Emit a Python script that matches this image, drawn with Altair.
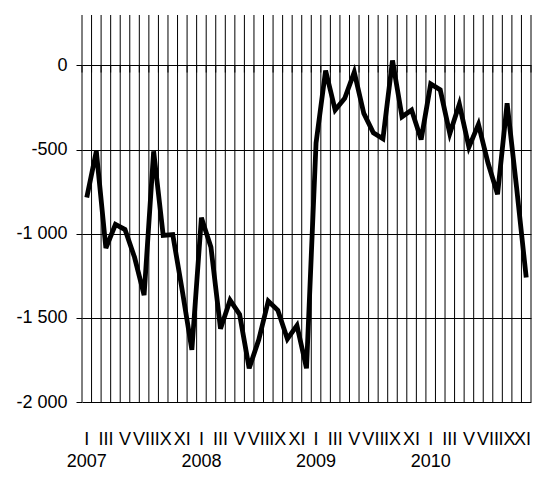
import altair as alt
import pandas as pd

# Monthly values, Jan 2007 .. Nov 2010
values = [
    -785, -510, -1085, -945, -975, -1140, -1365, -510, -1010, -1005, -1340, -1690,
    -905, -1080, -1565, -1395, -1480, -1800, -1630, -1400, -1455, -1625, -1545, -1800,
    -460, -30, -265, -195, -40, -285, -400, -435, 30, -305, -265, -440,
    -110, -145, -405, -230, -485, -350, -580, -765, -225, -730, -1260,
]
years = ["2007", "2008", "2009", "2010"]
month_names = ["I", "II", "III", "IV", "V", "VI", "VII", "VIII", "IX", "X", "XI", "XII"]
shown_months = ["I", "III", "V", "VII", "IX", "XI"]
y_ticks = [0, -500, -1000, -1500, -2000]

n = len(values)
FONT = "Liberation Sans, Arial"
W, H = 449, 387

df = pd.DataFrame({"x": [i + 0.5 for i in range(n)], "v": values})
bounds = pd.DataFrame({"b": list(range(n + 1))})
lab = pd.DataFrame(
    [
        {"x": i + 0.5, "edge": i + 1, "t": month_names[i % 12], "last": i == n - 1}
        for i in range(n)
        if month_names[i % 12] in shown_months
    ]
)
yr = pd.DataFrame({"x": [12 * k + 0.5 for k in range(len(years))], "t": years})

xs = alt.Scale(domain=[0, n], nice=False, zero=False)
ys = alt.Scale(domain=[-2000, 300], nice=False, zero=False)

grid_v = alt.Chart(bounds).mark_rule(color="black", strokeWidth=1).encode(
    x=alt.X("b:Q", scale=xs, axis=None),
    y=alt.value(0),
    y2=alt.value(H),
)

ticks0 = alt.Chart(bounds).mark_rule(color="black", strokeWidth=1).encode(
    x=alt.X("b:Q", scale=xs, axis=None),
    y=alt.datum(0),
    y2=alt.datum(-42),
)

line = alt.Chart(df).mark_line(color="black", strokeWidth=4.8, strokeJoin="miter").encode(
    x=alt.X("x:Q", scale=xs, axis=None),
    y=alt.Y(
        "v:Q",
        scale=ys,
        axis=alt.Axis(
            values=y_ticks,
            grid=True,
            gridColor="black",
            gridWidth=1,
            gridOpacity=1,
            tickColor="black",
            tickSize=6,
            domain=False,
            labelFont=FONT,
            labelFontSize=18,
            labelColor="black",
            labelPadding=9,
            labelExpr="(datum.value < 0 ? '-' : '') + replace(format(abs(datum.value), ','), ',', ' ')",
            title=None,
        ),
    ),
)

mlabels = alt.Chart(lab).transform_filter("!datum.last").mark_text(
    font=FONT, fontSize=18, color="black", align="center", baseline="alphabetic"
).encode(
    x=alt.X("x:Q", scale=xs, axis=None),
    y=alt.value(430),
    text="t:N",
)

mlabel_last = alt.Chart(lab).transform_filter("datum.last").mark_text(
    font=FONT, fontSize=18, color="black", align="right", baseline="alphabetic"
).encode(
    x=alt.X("edge:Q", scale=xs, axis=None),
    y=alt.value(430),
    text="t:N",
)

ylabels = alt.Chart(yr).mark_text(
    font=FONT, fontSize=18, color="black", align="center", baseline="alphabetic"
).encode(
    x=alt.X("x:Q", scale=xs, axis=None),
    y=alt.value(452),
    text="t:N",
)

chart = (
    alt.layer(grid_v, ticks0, line, mlabels, mlabel_last, ylabels)
    .properties(
        width=W,
        height=H,
        padding={"left": 74, "top": 7, "right": 1, "bottom": 70},
        autosize=alt.AutoSizeParams(type="none"),
        background="white",
    )
    .configure_view(stroke=None)
)

chart.save("out.html", embed_options={"renderer": "svg", "actions": False})
